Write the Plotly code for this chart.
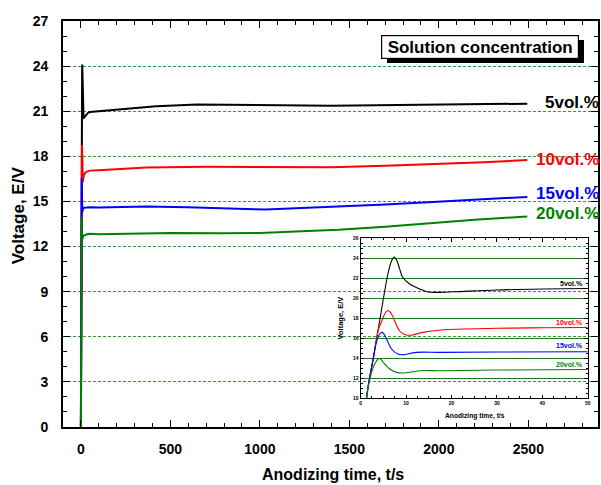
import plotly.graph_objects as go

# ---------------- data ----------------
series_names = ["5vol.%", "10vol.%", "15vol.%", "20vol.%"]
series_colors = ["#000000", "#ff0000", "#0000ff", "#008000"]

# early time (first 50 s, as in inset)
t5_early = [0, 1.3, 2.8, 4.0, 5.0, 6.0, 6.8, 7.4, 8.0, 8.6, 9.2, 10.8, 13.0, 14.8, 17.0, 20.7, 30, 40, 50]
v5_early = [0, 10.0, 14.0, 17.2, 19.9, 22.4, 23.7, 24.1, 23.7, 22.9, 22.1, 21.4, 20.9, 20.6, 20.56, 20.62, 20.8, 20.9, 20.95]
t10_early = [0, 1.3, 2.8, 4.0, 4.6, 5.3, 6.05, 6.8, 7.5, 8.6, 10.0, 11.1, 13.7, 17.7, 30, 40, 50]
v10_early = [0, 10.0, 14.0, 17.0, 17.6, 18.4, 18.75, 18.4, 17.7, 16.7, 16.3, 16.28, 16.56, 16.8, 16.97, 17.02, 17.05]
t15_early = [0, 1.3, 2.8, 3.6, 4.2, 4.8, 5.7, 6.8, 8.2, 9.3, 12.2, 17.7, 30, 50]
v15_early = [0, 10.0, 14.0, 15.8, 16.4, 16.56, 15.9, 14.9, 14.4, 14.33, 14.56, 14.56, 14.6, 14.62]
t20_early = [0, 1.3, 2.3, 3.1, 4.1, 5.3, 6.4, 7.9, 9.3, 13.0, 17.7, 30, 50]
v20_early = [0, 10.0, 12.4, 13.4, 13.96, 13.4, 12.9, 12.56, 12.5, 12.73, 12.73, 12.8, 12.85]

# long time (main plot)
t5_late = [100, 200, 300, 420, 650, 1000, 1400, 1900, 2494]
v5_late = [21.0, 21.1, 21.22, 21.33, 21.45, 21.4, 21.37, 21.43, 21.5]
t10_late = [100, 200, 366, 700, 1000, 1400, 1700, 2000, 2250, 2494]
v10_late = [17.08, 17.14, 17.25, 17.3, 17.3, 17.28, 17.37, 17.48, 17.6, 17.75]
t15_late = [100, 366, 600, 920, 1030, 1200, 1440, 1700, 1940, 2200, 2494]
v15_late = [14.6, 14.66, 14.62, 14.5, 14.46, 14.55, 14.65, 14.8, 14.95, 15.1, 15.3]
t20_late = [100, 300, 500, 800, 1000, 1200, 1440, 1700, 1940, 2200, 2494]
v20_late = [12.82, 12.86, 12.9, 12.88, 12.9, 13.0, 13.12, 13.32, 13.55, 13.78, 14.0]

early_t = [t5_early, t10_early, t15_early, t20_early]
early_v = [v5_early, v10_early, v15_early, v20_early]
late_t = [t5_late, t10_late, t15_late, t20_late]
late_v = [v5_late, v10_late, v15_late, v20_late]

# axis ranges and tick spacing (major, minor)
main_x_range, main_y_range = [-100, 2889], [0, 27]
inset_x_range, inset_y_range = [0, 50], [10, 26]
main_x_dtick, main_x_minor = 500, 100
main_y_dtick, main_y_minor = 3, 1
inset_x_dtick, inset_x_minor = 10, 2.5
inset_y_dtick, inset_y_minor = 2, 0.5

main_label_x = [2583, 2533, 2533, 2533]
main_label_y = [21.6, 17.82, 15.56, 14.23]
inset_label_y = [21.5, 17.6, 15.3, 13.4]

FONT = "Liberation Sans, Arial, sans-serif"

W, H = 601, 485
L, R, T, B = 63, 601, 21, 427


def px(x):
    return (x - L) / (R - L)


def py(y):
    return (B - y) / (B - T)


fig = go.Figure()

for i in range(4):
    fig.add_trace(go.Scatter(
        x=early_t[i] + late_t[i], y=early_v[i] + late_v[i],
        mode="lines", line=dict(color=series_colors[i], width=2),
        xaxis="x", yaxis="y"))

for i in range(4):
    fig.add_trace(go.Scatter(
        x=early_t[i], y=early_v[i],
        mode="lines", line=dict(color=series_colors[i], width=1.1, shape="spline"),
        xaxis="x2", yaxis="y2"))

# empty traces so the mirror-tick axes (top / right) are created
for xa, ya in [("x3", "y"), ("x", "y3"), ("x4", "y2"), ("x2", "y4")]:
    fig.add_trace(go.Scatter(x=[], y=[], mode="lines", xaxis=xa, yaxis=ya, hoverinfo="skip"))


def tick_axis(rng, dtick, tick0, minor, ticklen, mlen, tw, **kw):
    d = dict(range=rng, tick0=tick0, dtick=dtick, ticks="inside", ticklen=ticklen,
             tickwidth=tw, tickcolor="black", zeroline=False, showgrid=False,
             minor=dict(dtick=minor, ticklen=mlen, ticks="inside", tickcolor="black", showgrid=False))
    d.update(kw)
    return d


x2dom = [px(362.3), px(590.7)]
y2dom = [py(398), py(238)]

fig.update_layout(
    width=W, height=H, showlegend=False,
    margin=dict(l=L, r=W - R, t=T, b=H - B),
    paper_bgcolor="white", plot_bgcolor="rgba(0,0,0,0)",
    xaxis=tick_axis(main_x_range, main_x_dtick, 0, main_x_minor, 7, 4, 1.4,
                    showline=True, linecolor="black", linewidth=1.6, mirror=True,
                    tickfont=dict(size=14, weight="bold", family=FONT, color="black"),
                    ticklabelstandoff=8, domain=[0, 1], anchor="y"),
    yaxis=tick_axis(main_y_range, main_y_dtick, 0, main_y_minor, 7, 4, 1.4,
                    showline=True, linecolor="black", linewidth=1.6, mirror=True,
                    tickfont=dict(size=14, weight="bold", family=FONT, color="black"),
                    ticklabelstandoff=10, domain=[0, 1], anchor="x",
                    showgrid=True, gridcolor="#3a963a", gridwidth=1, griddash="3px,2px"),
    xaxis3=tick_axis(main_x_range, main_x_dtick, 0, main_x_minor, 7, 4, 1.4,
                     overlaying="x", side="top", anchor="y", showticklabels=False,
                     showline=False, domain=[0, 1]),
    yaxis3=tick_axis(main_y_range, main_y_dtick, 0, main_y_minor, 7, 4, 1.4,
                     overlaying="y", side="right", anchor="x", showticklabels=False,
                     showline=False, domain=[0, 1]),
    xaxis2=tick_axis(inset_x_range, inset_x_dtick, 0, inset_x_minor, 3.5, 2, 1,
                     showline=True, linecolor="black", linewidth=1, mirror=True,
                     tickfont=dict(size=5, weight="bold", family=FONT, color="black"),
                     domain=x2dom, anchor="y2"),
    yaxis2=tick_axis(inset_y_range, inset_y_dtick, 10, inset_y_minor, 3.5, 2, 1,
                     showline=True, linecolor="black", linewidth=1, mirror=True,
                     tickfont=dict(size=5, weight="bold", family=FONT, color="black"),
                     domain=y2dom, anchor="x2",
                     showgrid=True, gridcolor="#1f7a1f", gridwidth=1),
    xaxis4=tick_axis(inset_x_range, inset_x_dtick, 0, inset_x_minor, 3.5, 2, 1,
                     overlaying="x2", side="top", anchor="y2", showticklabels=False,
                     showline=False, domain=x2dom),
    yaxis4=tick_axis(inset_y_range, inset_y_dtick, 10, inset_y_minor, 3.5, 2, 1,
                     overlaying="y2", side="right", anchor="x2", showticklabels=False,
                     showline=False, domain=y2dom),
)

C = dict(xanchor="center", yanchor="middle", showarrow=False)
annotations = [
    # shadow of the title box
    dict(text=" ", xref="paper", yref="paper", x=px(487.5), y=py(51.5), **C,
         width=197, height=23, bgcolor="black", borderpad=0, borderwidth=0,
         font=dict(size=10, family=FONT)),
    # title box
    dict(text="Solution concentration", xref="paper", yref="paper",
         x=px(482.5), y=py(46.5), **C,
         width=196, height=22, bgcolor="white", bordercolor="black",
         borderwidth=1.2, borderpad=0,
         font=dict(size=17, weight="bold", family=FONT, color="black")),
    dict(text="Anodizing time, t/s", xref="paper", yref="paper",
         x=px(335), y=py(474), **C,
         font=dict(size=16, weight="bold", family=FONT, color="black")),
    dict(text="Voltage, E/V", xref="paper", yref="paper",
         x=px(18), y=py(215), textangle=-90, **C,
         font=dict(size=17, weight="bold", family=FONT, color="black")),
    dict(text="Anodizing time, t/s", xref="paper", yref="paper",
         x=px(477), y=py(415.5), **C,
         font=dict(size=6.7, weight="bold", family=FONT, color="black")),
    dict(text="Voltage, E/V", xref="paper", yref="paper",
         x=px(342), y=py(318), textangle=-90, **C,
         font=dict(size=7.5, weight="bold", family=FONT, color="black")),
]
for i in range(4):
    annotations.append(dict(
        text=series_names[i], xref="x", yref="y",
        x=main_label_x[i], y=main_label_y[i], xanchor="left", yanchor="middle", showarrow=False,
        font=dict(size=17, weight="bold", color=series_colors[i], family=FONT)))
    annotations.append(dict(
        text=series_names[i], xref="x2", yref="y2",
        x=49.4, y=inset_label_y[i], xanchor="right", yanchor="middle", showarrow=False,
        font=dict(size=7, weight="bold", color=series_colors[i], family=FONT)))

fig.update_layout(annotations=annotations)

fig.write_html("out.html")
